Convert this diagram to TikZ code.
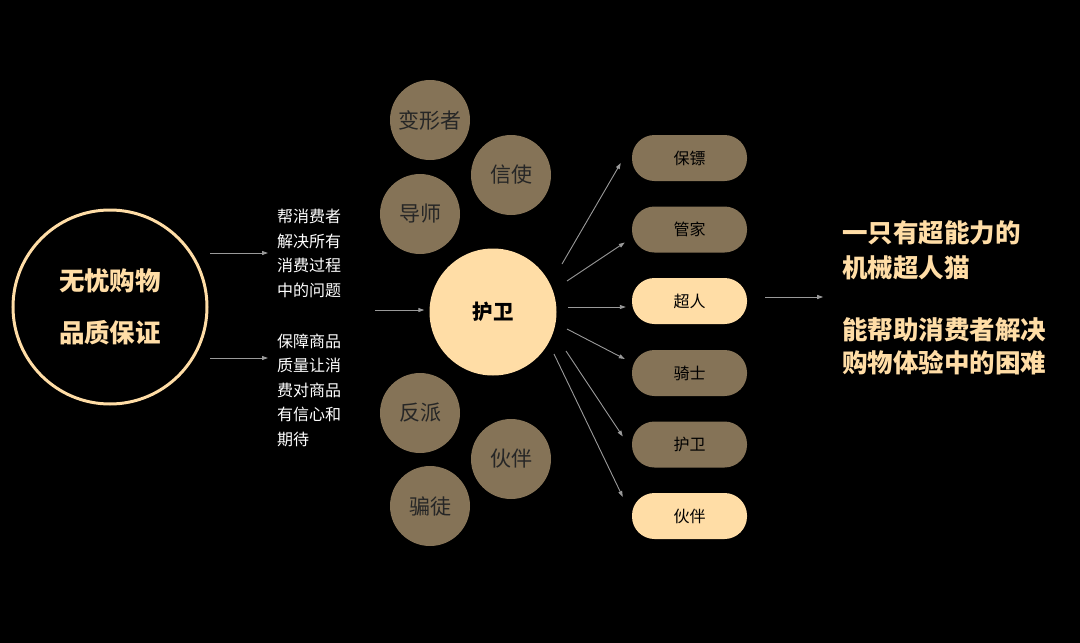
\documentclass[tikz,border=0pt]{standalone}
\usepackage{fontspec}
\usetikzlibrary{arrows.meta, positioning, calc}
\newfontfamily\cjk{Noto Sans CJK SC}
\definecolor{Peach}{HTML}{FFDDA6}
\definecolor{Bronze}{HTML}{857357}
\definecolor{Wire}{HTML}{9A9A9A}

\begin{document}
\begin{tikzpicture}[x=1pt, y=-1pt,
    link/.style={-{Triangle[length=6pt,width=4pt]}, Wire, line width=0.9pt},
    role/.style={circle, fill=Bronze, minimum size=80pt, inner sep=0pt, text=black!85, font=\cjk\fontsize{21}{24}\selectfont},
    pill/.style={rectangle, rounded corners=22.5pt, minimum width=115pt, minimum height=46pt, inner sep=0pt, text=black, font=\cjk\fontsize{16}{18}\selectfont},
    note/.style={anchor=west, inner sep=0pt, align=left, text=white, font=\cjk\fontsize{16}{24.5}\selectfont},
    claim/.style={anchor=west, inner sep=0pt, align=left, text=Peach, font=\cjk\bfseries\fontsize{25.5}{35}\selectfont}]

    % Background
    \fill[black] (0,0) rectangle (1080,643);
    \useasboundingbox (0,0) rectangle (1080,643);

    % Promise circle
    \node[circle, draw=Peach, line width=3pt, minimum size=194pt, inner sep=0pt, align=center, text=Peach,
          font=\cjk\bfseries\fontsize{25.5}{52}\selectfont] (big) at (110,307) {无忧购物\\品质保证};

    % Explanations
    \node[note] (t1) at (277,253.5) {帮消费者\\解决所有\\消费过程\\中的问题};
    \node[note] (t2) at (277,390) {保障商品\\质量让消\\费对商品\\有信心和\\期待};
    \draw[link] ($(big.center)+(100,-54)$) -- ($(t1.west)+(-9,-0.5)$);
    \draw[link] ($(big.center)+(100,51)$) -- ($(t2.west)+(-9,-32)$);

    % Hub
    \node[circle, fill=Peach, minimum size=127pt, inner sep=0pt, text=black,
          font=\cjk\bfseries\fontsize{20.5}{24}\selectfont] (hub) at (493,312) {护卫};
    \draw[link] ($(hub.west)+(-54,-2)$) -- ($(hub.west)+(-5,-2)$);

    % Archetypes round the hub
    \node[role] (shifter) at (430,120) {变形者};
    \node[role] (herald)  at (511,175) {信使};
    \node[role] (mentor)  at (420,214) {导师};
    \node[role] (shadow)  at (420,413) {反派};
    \node[role] (ally)    at (511,459) {伙伴};
    \node[role] (trick)   at (430,506) {骗徒};

    % Roles
    \node[pill, fill=Bronze] (b1) at (689.5,158)   {保镖};
    \node[pill, fill=Bronze] (b2) at (689.5,229.5) {管家};
    \node[pill, fill=Peach]  (b3) at (689.5,301)   {超人};
    \node[pill, fill=Bronze] (b4) at (689.5,373)   {骑士};
    \node[pill, fill=Bronze] (b5) at (689.5,444.5) {护卫};
    \node[pill, fill=Peach]  (b6) at (689.5,516)   {伙伴};

    \foreach \b/\sx/\sy/\ex/\ey in {b1/69/-48/-11/5, b2/74/-31/-7/13, b3/75/-5/-6/6,
                                    b4/74/17/-7/-14, b5/73/39/-9/-8, b6/61/42/-9/-19}
        \draw[link] ($(hub.center)+(\sx,\sy)$) -- ($(\b.west)+(\ex,\ey)$);

    % Conclusion
    \draw[link] ($(b3.east)+(18,-4)$) -- ($(b3.east)+(76,-4)$);
    \node[claim] (c1) at (842,250.5) {一只有超能力的\\机械超人猫};
    \node[claim, font=\cjk\bfseries\fontsize{25.5}{33}\selectfont] (c2) at (842,346.5) {能帮助消费者解决\\购物体验中的困难};
\end{tikzpicture}
\end{document}
